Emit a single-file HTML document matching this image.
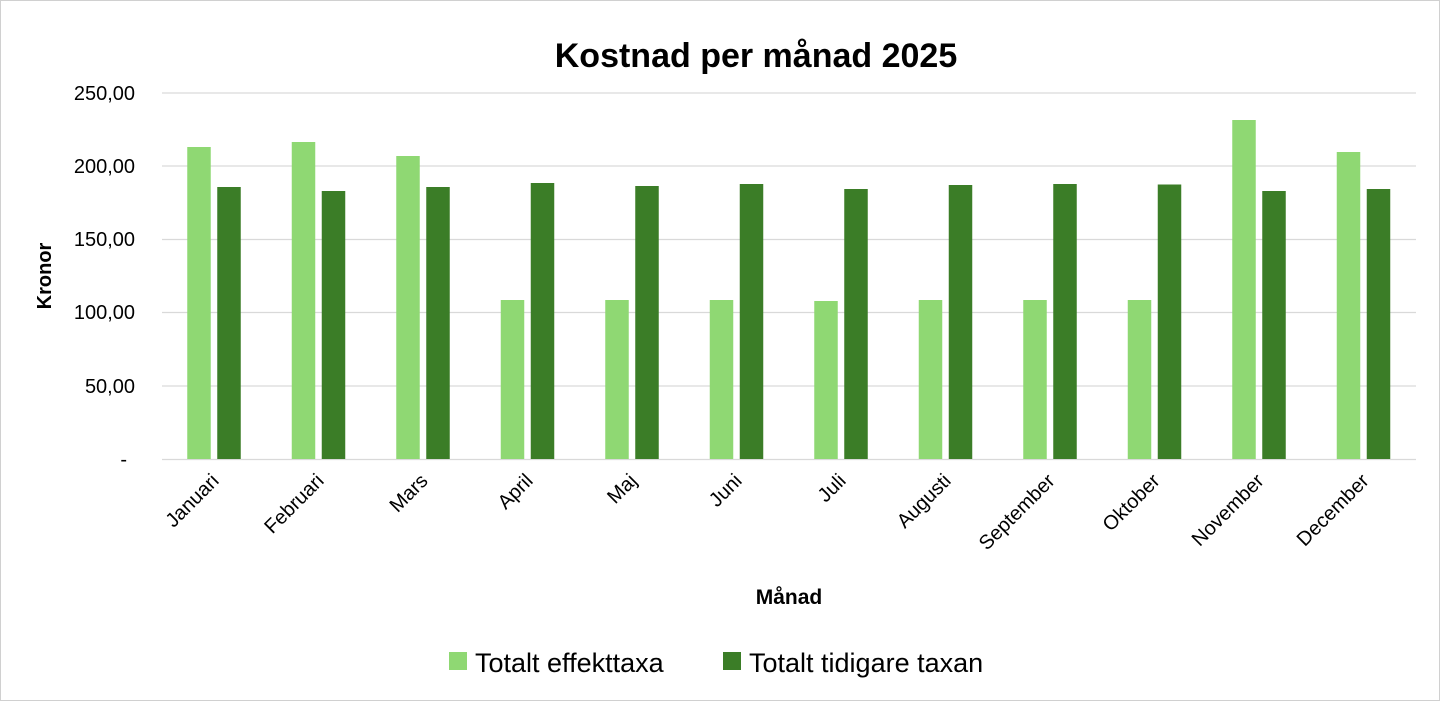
<!DOCTYPE html>
<html><head><meta charset="utf-8"><style>
html,body{margin:0;padding:0;background:#fff}
svg{display:block;font-family:"Liberation Sans",sans-serif}
</style></head><body>
<svg width="1440" height="701" viewBox="0 0 1440 701" xmlns="http://www.w3.org/2000/svg">
<rect x="0.5" y="0.5" width="1439" height="700" fill="#fff" stroke="#d0d0d0"/>
<text x="756" y="67" text-anchor="middle" font-size="34" font-weight="bold" fill="#000">Kostnad per månad 2025</text>
<g stroke="#d9d9d9" stroke-width="1.3">
<line x1="162" x2="1416" y1="93" y2="93"/><line x1="162" x2="1416" y1="166" y2="166"/>
<line x1="162" x2="1416" y1="239.5" y2="239.5"/><line x1="162" x2="1416" y1="312.5" y2="312.5"/>
<line x1="162" x2="1416" y1="386" y2="386"/><line x1="162" x2="1416" y1="459.5" y2="459.5"/>
</g>
<g font-size="20" fill="#000" text-anchor="end">
<text x="135" y="100">250,00</text><text x="135" y="173">200,00</text><text x="135" y="246">150,00</text>
<text x="135" y="319">100,00</text><text x="135" y="393">50,00</text><text x="127" y="466">-</text>
</g>
<text transform="translate(51,276) rotate(-90)" text-anchor="middle" font-size="20" font-weight="bold">Kronor</text>
<g fill="#8fd873">
<rect x="187.25" y="147" width="23.5" height="312"/>
<rect x="291.75" y="142" width="23.5" height="317"/>
<rect x="396.25" y="156" width="23.5" height="303"/>
<rect x="500.75" y="300" width="23.5" height="159"/>
<rect x="605.25" y="300" width="23.5" height="159"/>
<rect x="709.75" y="300" width="23.5" height="159"/>
<rect x="814.25" y="301" width="23.5" height="158"/>
<rect x="918.75" y="300" width="23.5" height="159"/>
<rect x="1023.25" y="300" width="23.5" height="159"/>
<rect x="1127.75" y="300" width="23.5" height="159"/>
<rect x="1232.25" y="120" width="23.5" height="339"/>
<rect x="1336.75" y="152" width="23.5" height="307"/>
</g>
<g fill="#3b7d27">
<rect x="217.25" y="187" width="23.5" height="272"/>
<rect x="321.75" y="191" width="23.5" height="268"/>
<rect x="426.25" y="187" width="23.5" height="272"/>
<rect x="530.75" y="183" width="23.5" height="276"/>
<rect x="635.25" y="186" width="23.5" height="273"/>
<rect x="739.75" y="184" width="23.5" height="275"/>
<rect x="844.25" y="189" width="23.5" height="270"/>
<rect x="948.75" y="185" width="23.5" height="274"/>
<rect x="1053.25" y="184" width="23.5" height="275"/>
<rect x="1157.75" y="184.5" width="23.5" height="274.5"/>
<rect x="1262.25" y="191" width="23.5" height="268"/>
<rect x="1366.75" y="189" width="23.5" height="270"/>
</g>
<g font-size="20" text-anchor="end" fill="#000">
<text transform="translate(220,482) rotate(-45)">Januari</text>
<text transform="translate(325,482) rotate(-45)">Februari</text>
<text transform="translate(429,482) rotate(-45)">Mars</text>
<text transform="translate(534,482) rotate(-45)">April</text>
<text transform="translate(638,482) rotate(-45)">Maj</text>
<text transform="translate(743,482) rotate(-45)">Juni</text>
<text transform="translate(847,482) rotate(-45)">Juli</text>
<text transform="translate(952,482) rotate(-45)">Augusti</text>
<text transform="translate(1056,482) rotate(-45)">September</text>
<text transform="translate(1161,482) rotate(-45)">Oktober</text>
<text transform="translate(1265,482) rotate(-45)">November</text>
<text transform="translate(1370,482) rotate(-45)">December</text>
</g>
<text x="789" y="604" text-anchor="middle" font-size="21" font-weight="bold">Månad</text>
<rect x="449" y="652" width="18" height="18" fill="#8fd873"/>
<text x="475" y="672" font-size="27">Totalt effekttaxa</text>
<rect x="723" y="652" width="18" height="18" fill="#3b7d27"/>
<text x="749" y="672" font-size="27">Totalt tidigare taxan</text>
</svg>
</body></html>
